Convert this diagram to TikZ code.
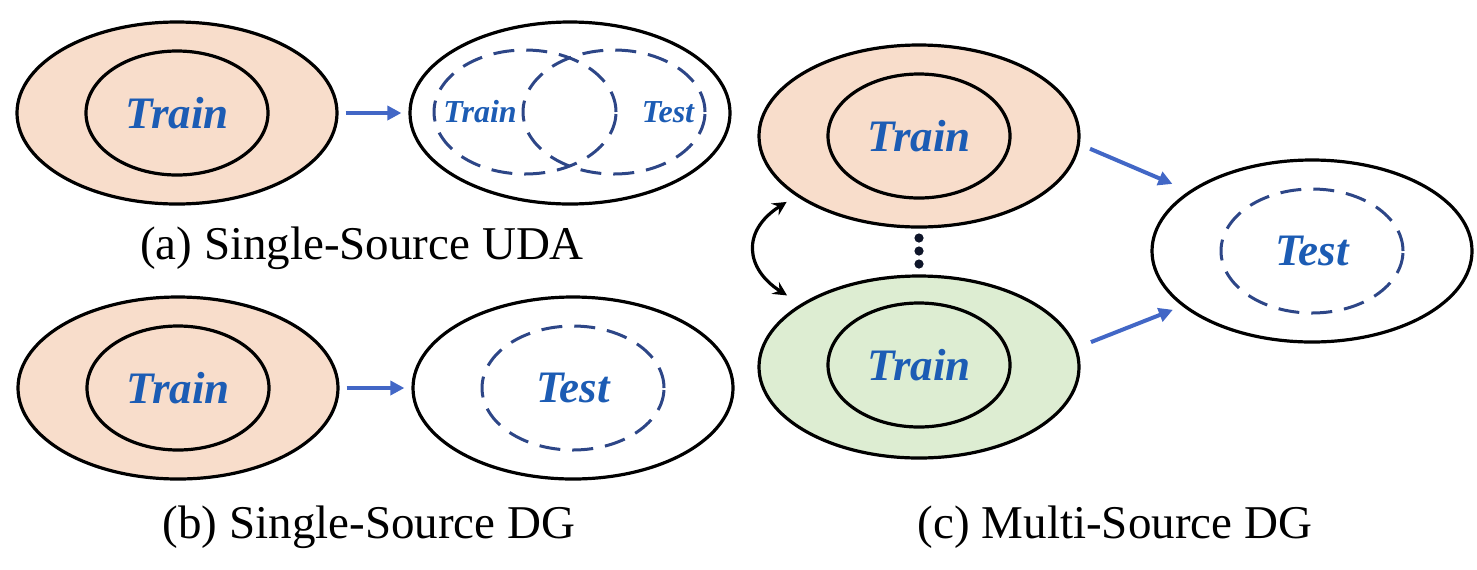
\documentclass[tikz,border=0pt]{standalone}
\usepackage{fontspec}
\setmainfont{Liberation Serif}
\usepackage{xcolor}
\usepackage{tikz}
\usetikzlibrary{shapes.geometric,arrows.meta}

\definecolor{peach}{HTML}{F8DDCB}
\definecolor{leaf}{HTML}{DDEDD2}
\definecolor{textblue}{HTML}{1C5CB4}
\definecolor{arrowblue}{HTML}{4267C6}
\definecolor{dashblue}{HTML}{2D4687}

\begin{document}
\begin{tikzpicture}[x=0.5pt,y=-0.5pt,
    region/.style={draw,ellipse,line width=1.6pt,inner sep=0pt,minimum width=160pt,minimum height=91pt},
    seen/.style={draw,ellipse,line width=1.6pt,inner sep=0pt,minimum width=91pt,minimum height=62pt,
        text=textblue,font=\fontsize{22.5}{26}\selectfont\bfseries\itshape},
    unseen/.style={seen,draw=dashblue,line width=1.5pt,dash pattern=on 10.5pt off 6pt},
    word/.style={text=textblue,font=\fontsize{16}{19}\selectfont\bfseries\itshape},
    flow/.style={draw=arrowblue,line width=2pt,-{Triangle[length=7pt,width=7pt]},shorten <=3.5pt,shorten >=3.5pt},
    caption/.style={font=\fontsize{23.5}{28}\selectfont,anchor=base}]
    \useasboundingbox (0,0) rectangle (1477,569);

    % (a) single-source UDA
    \node[region,fill=peach] (a1) at (177,113) {};
    \node[seen] (a1in) at (177,113) {Train};
    \node[region] (a2) at (570,113) {};
    \node[unseen] (a2l) at (525,112) {};
    \node[unseen] (a2r) at (614,112) {};
    \node[word] (a2train) at (480,112) {Train};
    \node[word] (a2test) at (668,112) {Test};
    \draw[flow] (a1) -- (a2);
    \node[caption] (capa) at (362,259) {(a) Single-Source UDA};

    % (b) single-source DG
    \node[region,fill=peach] (b1) at (178,388) {};
    \node[seen] (b1in) at (178,388) {Train};
    \node[region] (b2) at (573,388) {};
    \node[unseen] (b2in) at (573,388) {Test};
    \draw[flow] (b1) -- (b2);
    \node[caption] (capb) at (369,538) {(b) Single-Source DG};

    % (c) multi-source DG
    \node[region,fill=peach] (c1) at (919,136) {};
    \node[seen] (c1in) at (919,136) {Train};
    \node[region,fill=leaf] (c2) at (919,367) {};
    \node[seen] (c2in) at (919,365) {Train};
    \node[region] (c3) at (1312,251) {};
    \node[unseen] (c3in) at (1312,251) {Test};
    \foreach \y in {238,251,264}
        \fill[black!70!dashblue] (919,\y) circle (2.3pt);
    \draw[flow,shorten <=5.5pt,shorten >=9pt] (c1.-3) -- (c3.154);
    \draw[flow,shorten <=7.5pt,shorten >=5pt] (c2.7) -- (c3.203);
    \draw[line width=1.6pt,{Stealth[length=7pt,width=7pt,inset=2.5pt]}-{Stealth[length=7pt,width=7pt,inset=2.5pt]},
        shorten <=5.5pt,shorten >=8pt] (c1.206) .. controls +(-55,35) and +(-55,-35) .. (c2.152);
    \node[caption] (capc) at (1115,538) {(c) Multi-Source DG};
\end{tikzpicture}
\end{document}
